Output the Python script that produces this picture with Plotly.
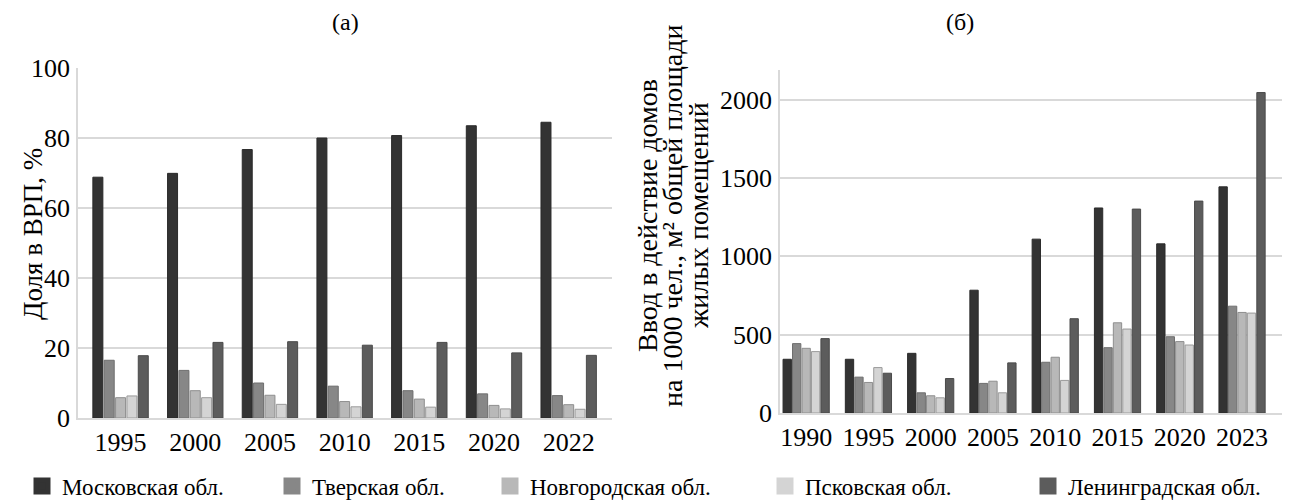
import plotly.graph_objects as go
from plotly.subplots import make_subplots

# ---- data ----
regions = ["Московская обл.", "Тверская обл.", "Новгородская обл.", "Псковская обл.", "Ленинградская обл."]
colors = ["#333333", "#878787", "#b8b8b8", "#d4d4d4", "#5c5c5c"]
edge_colors = ["#2a2a2a", "#6e6e6e", "#8e8e8e", "#9a9a9a", "#4a4a4a"]

years_a = ["1995", "2000", "2005", "2010", "2015", "2020", "2022"]
grp_share = {
    "Московская обл.":    [68.8, 69.9, 76.7, 80.0, 80.7, 83.5, 84.5],
    "Тверская обл.":      [16.5, 13.6, 10.0, 9.1, 7.8, 6.9, 6.4],
    "Новгородская обл.":  [5.8, 7.8, 6.5, 4.7, 5.4, 3.6, 3.8],
    "Псковская обл.":     [6.3, 5.8, 3.9, 3.2, 3.1, 2.6, 2.5],
    "Ленинградская обл.": [17.8, 21.6, 21.8, 20.8, 21.6, 18.6, 17.9],
}

years_b = ["1990", "1995", "2000", "2005", "2010", "2015", "2020", "2023"]
housing = {
    "Московская обл.":    [343, 343, 381, 784, 1110, 1309, 1080, 1444],
    "Тверская обл.":      [443, 229, 129, 189, 324, 417, 487, 682],
    "Новгородская обл.":  [413, 195, 110, 203, 356, 576, 456, 642],
    "Псковская обл.":     [392, 290, 97, 129, 208, 536, 434, 638],
    "Ленинградская обл.": [475, 254, 220, 320, 602, 1302, 1353, 2046],
}

title_a = "(а)"
title_b = "(б)"
ytitle_a = "Доля в ВРП, %"
ytitle_b_lines = ["Ввод в действие домов", "на 1000 чел., м² общей площади", "жилых помещений"]

FONT = "Liberation Serif"
PAGE_W, PAGE_H = 1290, 504
OFF = 8  # default page body margin
W, H = PAGE_W - OFF, PAGE_H - OFF

fig = make_subplots(rows=1, cols=2)

for i, r in enumerate(regions):
    fig.add_trace(go.Bar(
        x=years_a, y=grp_share[r], name=r,
        marker=dict(color=colors[i], line=dict(color=edge_colors[i], width=1)),
        showlegend=False,
    ), row=1, col=1)
for i, r in enumerate(regions):
    fig.add_trace(go.Bar(
        x=years_b, y=housing[r], name=r,
        marker=dict(color=colors[i], line=dict(color=edge_colors[i], width=1)),
        showlegend=False,
    ), row=1, col=2)

# legend-only entries (single missing value) on a hidden axis pair, with larger swatches
legend_names = ["legend", "legend2", "legend3", "legend4", "legend5"]
for i, r in enumerate(regions):
    fig.add_trace(go.Bar(
        x=[None], y=[None], name=r, xaxis="x3", yaxis="y3",
        marker=dict(color=colors[i], line=dict(color=colors[i], width=5)),
        legend=legend_names[i], showlegend=True, hoverinfo="skip",
    ))

# screen-pixel -> paper fraction helpers
def px_x(p):
    return (p - OFF) / W

def px_y(p):
    return 1 - (p - OFF) / H

grid = "#d9d9d9"
tickfont = dict(family=FONT, size=26, color="black")
common_x = dict(type="category", showgrid=False, showline=True, linecolor=grid, linewidth=2,
                ticks="", tickfont=tickfont, automargin=False, fixedrange=True)
common_y = dict(showgrid=True, gridcolor=grid, gridwidth=1.5, showline=True, linecolor=grid,
                linewidth=1.5, ticks="", zeroline=False, automargin=False,
                ticklabelstandoff=1, tickfont=tickfont)

fig.update_layout(
    template="none",
    xaxis=dict(common_x, domain=[px_x(78), px_x(612)], range=[-0.57, 6.58], anchor="y"),
    yaxis=dict(common_y, domain=[px_y(418), px_y(68)], range=[0, 100], dtick=20, anchor="x"),
    xaxis2=dict(common_x, domain=[px_x(780), 1.0], range=[-0.42, 7.77], anchor="y2"),
    yaxis2=dict(common_y, domain=[px_y(413), px_y(70)], range=[0, 2190], dtick=500, anchor="x2"),
    xaxis3=dict(visible=False, domain=[0, 0.01], anchor="y3"),
    yaxis3=dict(visible=False, domain=[0, 0.01], anchor="x3"),
)

fig.update_layout(
    width=W, height=H,
    margin=dict(l=0, r=0, t=0, b=0, autoexpand=False),
    paper_bgcolor="white", plot_bgcolor="rgba(0,0,0,0)",
    barmode="group", bargap=0.24, bargroupgap=0.12,
    font=dict(family=FONT, color="black"),
    showlegend=True,
)

# legends positioned individually along the bottom
leg_x = [22, 272, 490, 765, 1028]
for name, lx in zip(legend_names, leg_x):
    fig.update_layout({name: dict(
        x=px_x(lx), y=px_y(486), xanchor="left", yanchor="middle", orientation="h",
        font=dict(family=FONT, size=23, color="black"), bgcolor="rgba(0,0,0,0)",
        itemwidth=30, borderwidth=0,
    )})

# panel titles
for txt, tx in [(title_a, 345), (title_b, 960)]:
    fig.add_annotation(text=txt, x=px_x(tx), y=px_y(22), xref="paper", yref="paper",
                       xanchor="center", yanchor="middle", showarrow=False,
                       font=dict(family=FONT, size=24, color="black"))

# y-axis titles (rotated)
fig.add_annotation(text=ytitle_a, x=px_x(33), y=px_y(234), xref="paper", yref="paper",
                   xanchor="center", yanchor="middle", showarrow=False, textangle=-90,
                   font=dict(family=FONT, size=27, color="black"))
for line, lx in zip(ytitle_b_lines, [647, 672, 698]):
    fig.add_annotation(text=line, x=px_x(lx), y=px_y(216), xref="paper", yref="paper",
                       xanchor="center", yanchor="middle", showarrow=False, textangle=-90,
                       font=dict(family=FONT, size=28, color="black"))

fig.write_html("out.html")
